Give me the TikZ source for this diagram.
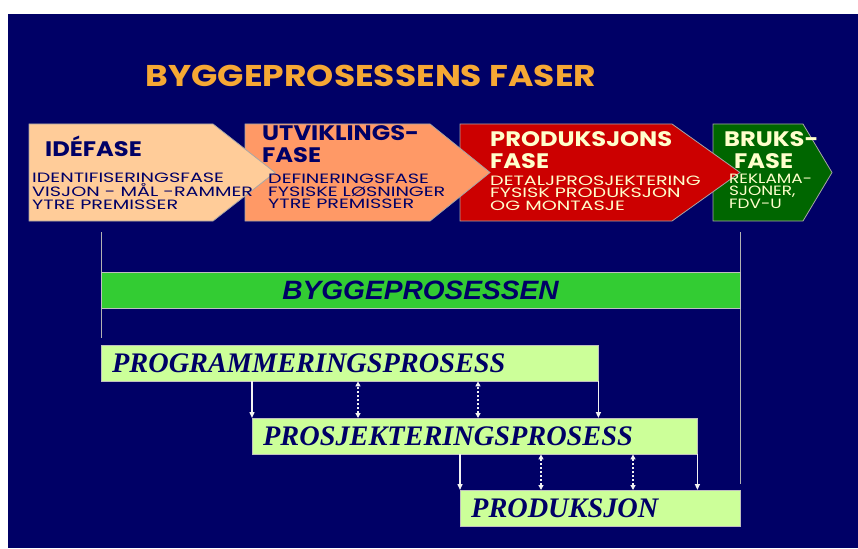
\documentclass[tikz,border=0pt]{standalone}
\usepackage{fontspec}
\setmainfont{Liberation Serif}
\newfontfamily\comic[FakeStretch=1.15]{Poppins}
\newfontfamily\comicmid[FakeStretch=1.25]{Poppins}
\newfontfamily\comicbred[FakeStretch=1.42]{Poppins}
\newfontfamily\arialf[FakeStretch=1.06]{Liberation Sans}
\usetikzlibrary{arrows.meta,calc}
\definecolor{marine}{HTML}{000066}
\definecolor{tittelgul}{HTML}{F6A834}
\definecolor{fersken}{HTML}{FFCC99}
\definecolor{laks}{HTML}{FF9966}
\definecolor{rod}{HTML}{CC0000}
\definecolor{morkgronn}{HTML}{006600}
\definecolor{krem}{HTML}{FFFFCC}
\definecolor{grontband}{HTML}{33CC33}
\definecolor{lysgronn}{HTML}{CCFF99}
\newcommand{\fasepil}[4]{%
  \filldraw[fase, fill=#4] (#1,124) -- (#2,124) -- (#3,172.5) -- (#2,221) -- (#1,221) -- cycle;}

\begin{document}
\begin{tikzpicture}[x=1pt, y=-1pt,
  fase/.style={draw=gray!70, line width=0.8pt},
  hode/.style={font=\comic\bfseries\fontsize{21}{22}\selectfont, align=left, anchor=base west, inner sep=0pt},
  under/.style={font=\comicbred\fontsize{13.5}{12.4}\selectfont, align=left, anchor=base west, inner sep=0pt},
  band/.style={draw=gray!50, fill=grontband, minimum width=639pt, minimum height=36pt, inner sep=0pt,
    font=\arialf\bfseries\itshape\fontsize{26.5}{26.5}\selectfont, text=marine},
  prosess/.style={draw=gray!50, fill=lysgronn, anchor=north west, minimum height=36pt, inner ysep=0pt, inner xsep=11pt,
    align=left, font=\bfseries\itshape\fontsize{28.3}{28.3}\selectfont, text=marine},
  linje/.style={draw=gray!60, line width=0.8pt},
  ned/.style={draw=white!90!gray, line width=1.4pt, -{Triangle[length=6pt,width=5pt]}},
  toveis/.style={draw=white!90!gray, line width=2pt, dotted, {Triangle[length=5pt,width=5pt]}-{Triangle[length=5pt,width=5pt]}}]
\useasboundingbox (0,0) rectangle (858,548);
\fill[white] (0,0) rectangle (858,548);
\fill[marine] (8,14) rectangle (858,548);

% tittel
\node[font=\comic\bfseries\fontsize{30}{30}\selectfont, text=tittelgul, anchor=base] (tittel) at (371,87) {BYGGEPROSESSENS FASER};

% fasepiler, tegnet fra hoyre slik at spissene ligger over
\fasepil{713}{803}{832}{morkgronn}
\fasepil{460}{672}{740}{rod}
\fasepil{245}{430}{490}{laks}
\fasepil{29}{213}{275}{fersken}

\node[hode, text=marine] (ide) at (45,157) {IDÉFASE};
\node[under, text=marine] (ideinfo) at (32,209) {IDENTIFISERINGSFASE\\VISJON - MÅL -RAMMER\\YTRE PREMISSER};
\node[hode, text=marine] (utv) at (262,163) {UTVIKLINGS-\\FASE};
\node[under, text=marine] (utvinfo) at (268,208.5) {DEFINERINGSFASE\\FYSISKE LØSNINGER\\YTRE PREMISSER};
\node[hode, text=krem] (prodf) at (490,168) {PRODUKSJONS\\FASE};
\node[under, text=krem] (prodinfo) at (490,210) {DETALJPROSJEKTERING\\FYSISK PRODUKSJON\\OG MONTASJE};
\node[hode, text=krem] (bruk) at (724,168) {BRUKS-\\\hspace*{10pt}FASE};
\node[under, text=krem, font=\comicmid\fontsize{13.5}{12.4}\selectfont] (brukinfo) at (729,208) {REKLAMA-\\SJONER,\\FDV-U};

% rammelinjer
\coordinate (vtopp) at (101,232);
\coordinate (vbunn) at (101,338);
\coordinate (htopp) at (740,232);
\coordinate (hbunn) at (740,484);
\draw[linje] (vtopp) -- (vbunn);
\draw[linje] (htopp) -- (hbunn);

\node[band] (bygg) at (420.5,290) {BYGGEPROSESSEN};

% delprosesser
\node[prosess, minimum width=497pt, text width=475pt] (prog) at (101,345) {PROGRAMMERINGSPROSESS};
\node[prosess, minimum width=445pt, text width=423pt] (prosj) at (252,418) {PROSJEKTERINGSPROSESS};
\node[prosess, minimum width=280pt, text width=258pt] (prod) at (460,490) {PRODUKSJON};

\draw[ned] (prog.south -| prosj.west) -- (prosj.north west);
\draw[ned] (prog.south east) -- (prog.south east |- prosj.north);
\draw[toveis] ([xshift=106pt]prosj.north west) -- ([xshift=106pt]prosj.north west |- prog.south);
\draw[toveis] ([xshift=226pt]prosj.north west) -- ([xshift=226pt]prosj.north west |- prog.south);

\draw[ned] (prosj.south -| prod.west) -- (prod.north west);
\draw[ned] (prosj.south east) -- (prosj.south east |- prod.north);
\draw[toveis] ([xshift=81pt]prod.north west) -- ([xshift=81pt]prod.north west |- prosj.south);
\draw[toveis] ([xshift=173pt]prod.north west) -- ([xshift=173pt]prod.north west |- prosj.south);
\end{tikzpicture}
\end{document}
